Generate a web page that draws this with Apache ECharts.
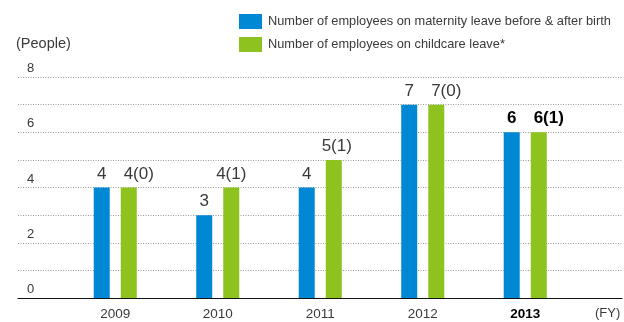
<!DOCTYPE html>
<html>
<head>
<meta charset="utf-8">
<script src="https://cdn.jsdelivr.net/npm/echarts@6/dist/echarts.min.js"></script>
<style>
  html, body { margin: 0; padding: 0; background: #fff; }
  #chart { width: 624px; height: 322px; }
</style>
</head>
<body>
<div id="chart"></div>
<script>
// Fiscal years and headcounts
const years = ['2009', '2010', '2011', '2012', '2013'];
const maternityLeave = [4, 3, 4, 7, 6];
const childcareLeave = [4, 4, 5, 7, 6];
const childcareMale = [0, 1, 1, 0, 1];   // shown in parentheses
const yTicks = [0, 2, 4, 6, 8];
const highlightYear = '2013';

const BLUE = '#0088d4';
const GREEN = '#8dc21f';
const TEXT = '#3a3a3a';
const FONT = '"Liberation Sans", Arial, sans-serif';

const chart = echarts.init(document.getElementById('chart'), null, { renderer: 'canvas' });

const greenLabelShift = [10, 0, 3, 10, 10];

const blueData = maternityLeave.map((v, i) => ({
  value: v,
  label: years[i] === highlightYear ? { fontWeight: 'bold', color: '#000' } : {}
}));
const greenData = childcareLeave.map((v, i) => ({
  value: v,
  label: Object.assign(
    { offset: [greenLabelShift[i], 0] },
    years[i] === highlightYear ? { fontWeight: 'bold', color: '#000' } : {}
  )
}));

const option = {
  animation: false,
  backgroundColor: '#fff',
  textStyle: { fontFamily: FONT },
  legend: {
    orient: 'vertical',
    left: 239,
    top: 14,
    padding: 0,
    itemWidth: 23,
    itemHeight: 15,
    itemGap: 8,
    icon: 'rect',
    textStyle: { fontSize: 12.8, color: TEXT, fontFamily: FONT, padding: [0, 0, 0, 1] },
    data: [
      'Number of employees on maternity leave before & after birth',
      'Number of employees on childcare leave*'
    ]
  },
  grid: [
    { left: 18, right: 2, top: 77, bottom: 24, containLabel: false },
    { left: 64, right: 47.5, top: 77, bottom: 24, containLabel: false }
  ],
  xAxis: [
    {
      gridIndex: 0, type: 'value', min: 0, max: 1,
      axisLine: { show: true, onZero: false, lineStyle: { color: '#111', width: 1.2 } },
      axisTick: { show: false }, axisLabel: { show: false }, splitLine: { show: false }
    },
    {
      gridIndex: 1, type: 'category', data: years,
      axisLine: { show: false }, axisTick: { show: false },
      axisLabel: {
        margin: 9,
        fontSize: 13.5,
        color: TEXT,
        formatter: v => v === highlightYear ? '{b|' + v + '}' : v,
        rich: { b: { fontWeight: 'bold', color: '#000', fontSize: 13.5, fontFamily: FONT } }
      }
    }
  ],
  yAxis: [
    {
      gridIndex: 0, type: 'value', min: 0, max: 8, interval: 1,
      axisLine: { show: false }, axisTick: { show: false },
      axisLabel: {
        inside: true, margin: 9, fontSize: 13, color: TEXT,
        verticalAlign: 'bottom', padding: [0, 0, 2, 0],
        formatter: v => yTicks.includes(v) ? String(v) : ''
      },
      splitLine: { show: true, lineStyle: { color: '#999', type: [1, 1.5], width: 1 } }
    },
    {
      gridIndex: 1, type: 'value', min: 0, max: 8, interval: 1,
      show: false, splitLine: { show: false }
    }
  ],
  series: [
    {
      name: 'Number of employees on maternity leave before & after birth',
      type: 'bar', xAxisIndex: 1, yAxisIndex: 1,
      barWidth: 16, barGap: '69%',
      itemStyle: { color: BLUE },
      label: { show: true, position: 'top', distance: 5, fontSize: 17, color: TEXT },
      data: blueData
    },
    {
      name: 'Number of employees on childcare leave*',
      type: 'bar', xAxisIndex: 1, yAxisIndex: 1,
      barWidth: 16, barGap: '69%',
      itemStyle: { color: GREEN },
      label: {
        show: true, position: 'top', distance: 5, fontSize: 17, color: TEXT,
        formatter: p => p.value + '(' + childcareMale[p.dataIndex] + ')'
      },
      data: greenData
    }
  ],
  graphic: [
    {
      type: 'text', left: 16, top: 36,
      style: { text: '(People)', fontSize: 14.5, fill: TEXT, fontFamily: FONT }
    },
    {
      type: 'text', left: 595, top: 307,
      style: { text: '(FY)', fontSize: 13, fill: TEXT, fontFamily: FONT }
    }
  ]
};

chart.setOption(option);
</script>
</body>
</html>
